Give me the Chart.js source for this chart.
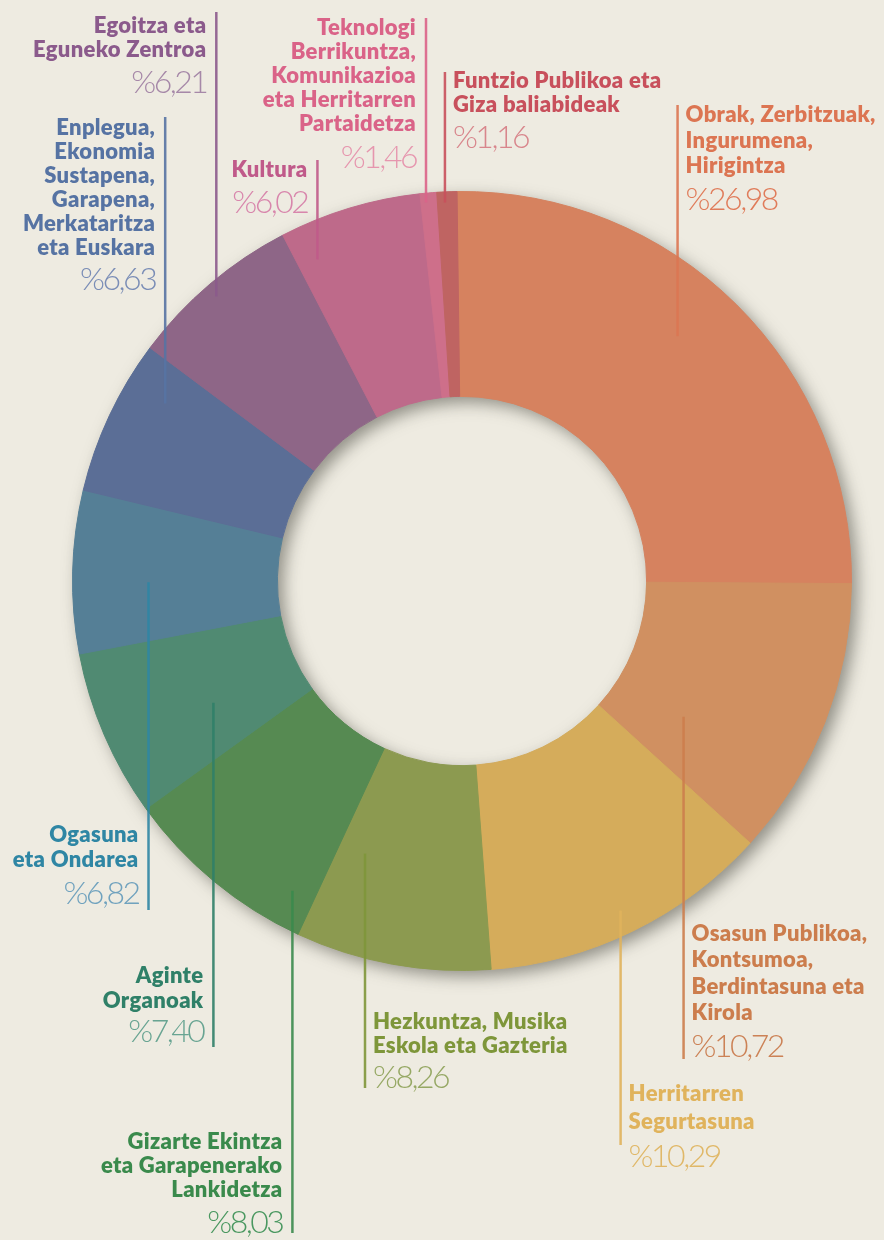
<!DOCTYPE html>
<html><head><meta charset="utf-8">
<script src="https://cdn.jsdelivr.net/npm/chart.js@4.4.1/dist/chart.umd.min.js"></script>
<style>html,body{margin:0;padding:0;background:#EEEBE1;}canvas{display:block}</style>
</head><body>
<canvas id="c" width="884" height="1240"></canvas>
<script>
// ---- data ----
const categories = [
  "Obrak, Zerbitzuak, Ingurumena, Hirigintza",
  "Osasun Publikoa, Kontsumoa, Berdintasuna eta Kirola",
  "Herritarren Segurtasuna",
  "Hezkuntza, Musika Eskola eta Gazteria",
  "Gizarte Ekintza eta Garapenerako Lankidetza",
  "Aginte Organoak",
  "Ogasuna eta Ondarea",
  "Enplegua, Ekonomia Sustapena, Garapena, Merkataritza eta Euskara",
  "Egoitza eta Eguneko Zentroa",
  "Kultura",
  "Teknologi Berrikuntza, Komunikazioa eta Herritarren Partaidetza",
  "Funtzio Publikoa eta Giza baliabideak"
];
const categoryLines = [
  ["Obrak, Zerbitzuak,", "Ingurumena,", "Hirigintza"],
  ["Osasun Publikoa,", "Kontsumoa,", "Berdintasuna eta", "Kirola"],
  ["Herritarren", "Segurtasuna"],
  ["Hezkuntza, Musika", "Eskola eta Gazteria"],
  ["Gizarte Ekintza", "eta Garapenerako", "Lankidetza"],
  ["Aginte", "Organoak"],
  ["Ogasuna", "eta Ondarea"],
  ["Enplegua,", "Ekonomia", "Sustapena,", "Garapena,", "Merkataritza", "eta Euskara"],
  ["Egoitza eta", "Eguneko Zentroa"],
  ["Kultura"],
  ["Teknologi", "Berrikuntza,", "Komunikazioa", "eta Herritarren", "Partaidetza"],
  ["Funtzio Publikoa eta", "Giza baliabideak"]
];
// percentages printed on the chart
const printedPct = [26.98, 10.72, 10.29, 8.26, 8.03, 7.40, 6.82, 6.63, 6.21, 6.02, 1.46, 1.16];
// slice shares as drawn in the picture (measured angles)
const drawnShare = [25.31, 11.64, 12.06, 8.11, 8.14, 6.94, 6.75, 6.47, 7.17, 5.89, 0.69, 0.83];

// ---- styles ----
const sliceColors = ["#D6825F","#D09061","#D5AC5B","#8C9A50","#568A52","#508A72","#557F96","#5B6E96","#8E6687","#BE6A8A","#CE6F8A","#BF6462"];
const titleColors = ["#DC7552","#CC7D4D","#E0B35C","#7E963A","#3A8A4C","#2F8068","#2F86A4","#5673A3","#8B5A8C","#C05A8A","#DA6388","#C8505C"];
const valueColors = ["#E07C5A","#CC8256","#E0B868","#96A864","#4A9860","#68A492","#70A2BE","#7A8DB6","#A688A8","#D886AC","#E696AE","#D8868C"];

// ---- label layout: anchor inside slice (angle fraction, radial fraction), line end y, text side/offsets ----
const labelLayout = [
  {frac:0.462, rf:0.691, end:105,  side:'R', y0:122,  lh:25.5, vy:210},
  {frac:0.742, rf:0.367, end:1059, side:'R', y0:941,  lh:26.3, vy:1057},
  {frac:0.507, rf:0.884, end:1145, side:'R', y0:1101, lh:28,   vy:1167},
  {frac:0.818, rf:0.511, end:1088, side:'R', y0:1029, lh:24,   vy:1088},
  {frac:0.130, rf:0.822, end:1233, side:'L', y0:1149, lh:24,   vy:1233},
  {frac:0.388, rf:0.450, end:1047, side:'L', y0:983,  lh:25,   vy:1042},
  {frac:0.436, rf:0.629, end:910,  side:'L', y0:842,  lh:25,   vy:904},
  {frac:0.747, rf:0.787, end:117,  side:'L', y0:135,  lh:24,   vy:290},
  {frac:0.481, rf:0.934, end:12,   side:'L', y0:33,   lh:24,   vy:93},
  {frac:0.151, rf:0.820, end:160,  side:'L', y0:177,  lh:24,   vy:213},
  {frac:0.310, rf:0.955, end:18,   side:'L', y0:35,   lh:24,   vy:168},
  {frac:0.380, rf:0.948, end:72,   side:'R', y0:88,   lh:24,   vy:148}
];

const fmtPct = v => "%" + v.toFixed(2).replace(".", ",");

const ringShadow = {
  id: 'ringShadow',
  beforeDatasetsDraw(chart) {
    const arc = chart.getDatasetMeta(0).data[0];
    if (!arc) return;
    const {x, y, outerRadius, innerRadius} = arc.getProps(['x','y','outerRadius','innerRadius'], true);
    const ctx = chart.ctx;
    ctx.save();
    ctx.shadowColor = 'rgba(70,70,60,0.55)';
    ctx.shadowBlur = 16;
    ctx.shadowOffsetX = 6;
    ctx.shadowOffsetY = 6;
    ctx.beginPath();
    ctx.arc(x, y, outerRadius, 0, Math.PI * 2);
    ctx.arc(x, y, innerRadius, 0, Math.PI * 2, true);
    ctx.fillStyle = '#A09C90';
    ctx.fill();
    ctx.restore();
  }
};

const leaderLabels = {
  id: 'leaderLabels',
  afterDatasetsDraw(chart) {
    const ctx = chart.ctx;
    const meta = chart.getDatasetMeta(0);
    meta.data.forEach((arc, i) => {
      const p = arc.getProps(['x','y','startAngle','endAngle','innerRadius','outerRadius'], true);
      const L = labelLayout[i];
      const ang = p.startAngle + L.frac * (p.endAngle - p.startAngle);
      const r = p.innerRadius + L.rf * (p.outerRadius - p.innerRadius);
      const ax = p.x + r * Math.cos(ang);
      const ay = p.y + r * Math.sin(ang);
      ctx.save();
      ctx.strokeStyle = titleColors[i];
      ctx.globalAlpha = 0.9;
      ctx.lineWidth = 2.5;
      ctx.beginPath();
      ctx.moveTo(ax, ay);
      ctx.lineTo(ax, L.end);
      ctx.stroke();
      ctx.globalAlpha = 1;
      const right = L.side === 'R';
      const tx = right ? ax + 8 : ax - 10;
      ctx.textAlign = right ? 'left' : 'right';
      ctx.textBaseline = 'alphabetic';
      ctx.fillStyle = titleColors[i];
      ctx.font = '800 22px Lato, "Open Sans", sans-serif';
      ctx.letterSpacing = '0.3px';
      categoryLines[i].forEach((line, k) => {
        ctx.fillText(line, tx, L.y0 + k * L.lh);
      });
      ctx.fillStyle = valueColors[i];
      ctx.font = '300 32px Lato, sans-serif';
      ctx.letterSpacing = '-2.5px';
      ctx.fillText(fmtPct(printedPct[i]), tx, L.vy);
      ctx.restore();
    });
  }
};

new Chart(document.getElementById('c'), {
  type: 'doughnut',
  data: {
    labels: categories,
    datasets: [{
      data: drawnShare,
      backgroundColor: sliceColors,
      borderColor: sliceColors,
      borderWidth: 1
    }]
  },
  options: {
    responsive: false,
    animation: false,
    events: [],
    rotation: -0.73,
    cutout: '47.4%',
    layout: {padding: {left: 72, right: 32, top: 190, bottom: 268}},
    plugins: {legend: {display: false}, tooltip: {enabled: false}}
  },
  plugins: [ringShadow, leaderLabels]
});
</script>
</body></html>
